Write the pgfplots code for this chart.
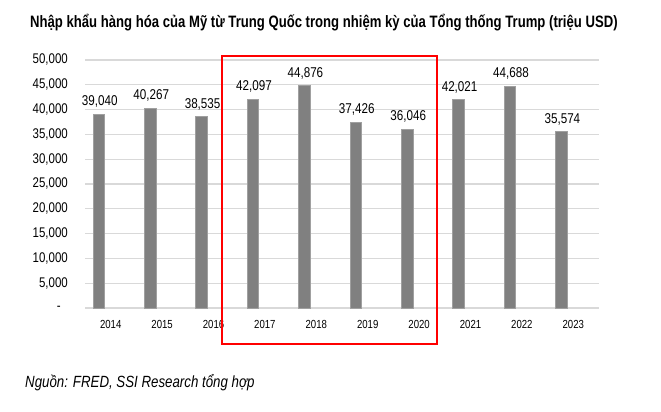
\documentclass[border=0pt]{standalone}
\usepackage{pgfplots}
\pgfplotsset{compat=1.18}
\usepackage{fontspec}
\setmainfont[FakeStretch=0.82]{Liberation Sans}
\newfontfamily\titlefont[FakeStretch=0.795]{Liberation Sans}
\definecolor{barfill}{HTML}{808080}
\definecolor{baredge}{HTML}{A0A0A0}
\definecolor{gridc}{HTML}{D9D9D9}
\begin{document}
\begin{tikzpicture}
\path[use as bounding box, fill=white] (0,0) rectangle (661bp,-412bp);
\node[anchor=base west, inner sep=0pt, font=\titlefont\fontsize{16.5bp}{20bp}\selectfont\bfseries] at (30bp,-27.3bp)
  {Nhập khẩu hàng hóa của Mỹ từ Trung Quốc trong nhiệm kỳ của Tổng thống Trump (triệu USD)};
\begin{axis}[
  at={(85bp,-308bp)}, anchor=south west,
  scale only axis, width=514bp, height=248bp,
  xmin=-0.5, xmax=9.5, ymin=0, ymax=50000,
  scaled y ticks=false,
  axis line style={draw=none},
  major tick length=0pt,
  ymajorgrids, grid style={gridc, line width=1.1bp},
  ytick={0,5000,...,50000},
  yticklabels={{-\hspace*{7bp}},{5,000},{10,000},{15,000},{20,000},{25,000},{30,000},{35,000},{40,000},{45,000},{50,000}},
  yticklabel style={anchor=east, inner sep=0pt, xshift=-17bp, font=\fontsize{14bp}{16bp}\selectfont},
  xtick=data,
  xticklabels={2014,2015,2016,2017,2018,2019,2020,2021,2022,2023},
  xticklabel style={anchor=base, inner sep=0pt, yshift=-20.5bp, font=\fontsize{11.7bp}{14bp}\selectfont},
  ybar, bar width=11.5bp, bar shift=-11.9bp,
  nodes near coords={\pgfmathprintnumber[1000 sep={,},assume math mode=true]{\pgfplotspointmeta}},
  every node near coord/.append style={anchor=base, inner sep=0pt, yshift=8.4bp, xshift=1bp, font=\fontsize{14.2bp}{16bp}\selectfont, text=black},
  clip=false,
]
\addplot[fill=barfill, draw=baredge, line width=0.8bp] coordinates {
(0,39040) (1,40267) (2,38535) (3,42097) (4,44876) (5,37426) (6,36046) (7,42021) (8,44688) (9,35574)};
\end{axis}
\draw[red, line width=2.7bp] (222bp,-56bp) rectangle (437bp,-344bp);
\node[anchor=base west, inner sep=0pt, font=\fontsize{16.2bp}{18bp}\selectfont\itshape] at (25bp,-387.3bp)
  {Nguồn: FRED, SSI Research tổng hợp};
\end{tikzpicture}
\end{document}
